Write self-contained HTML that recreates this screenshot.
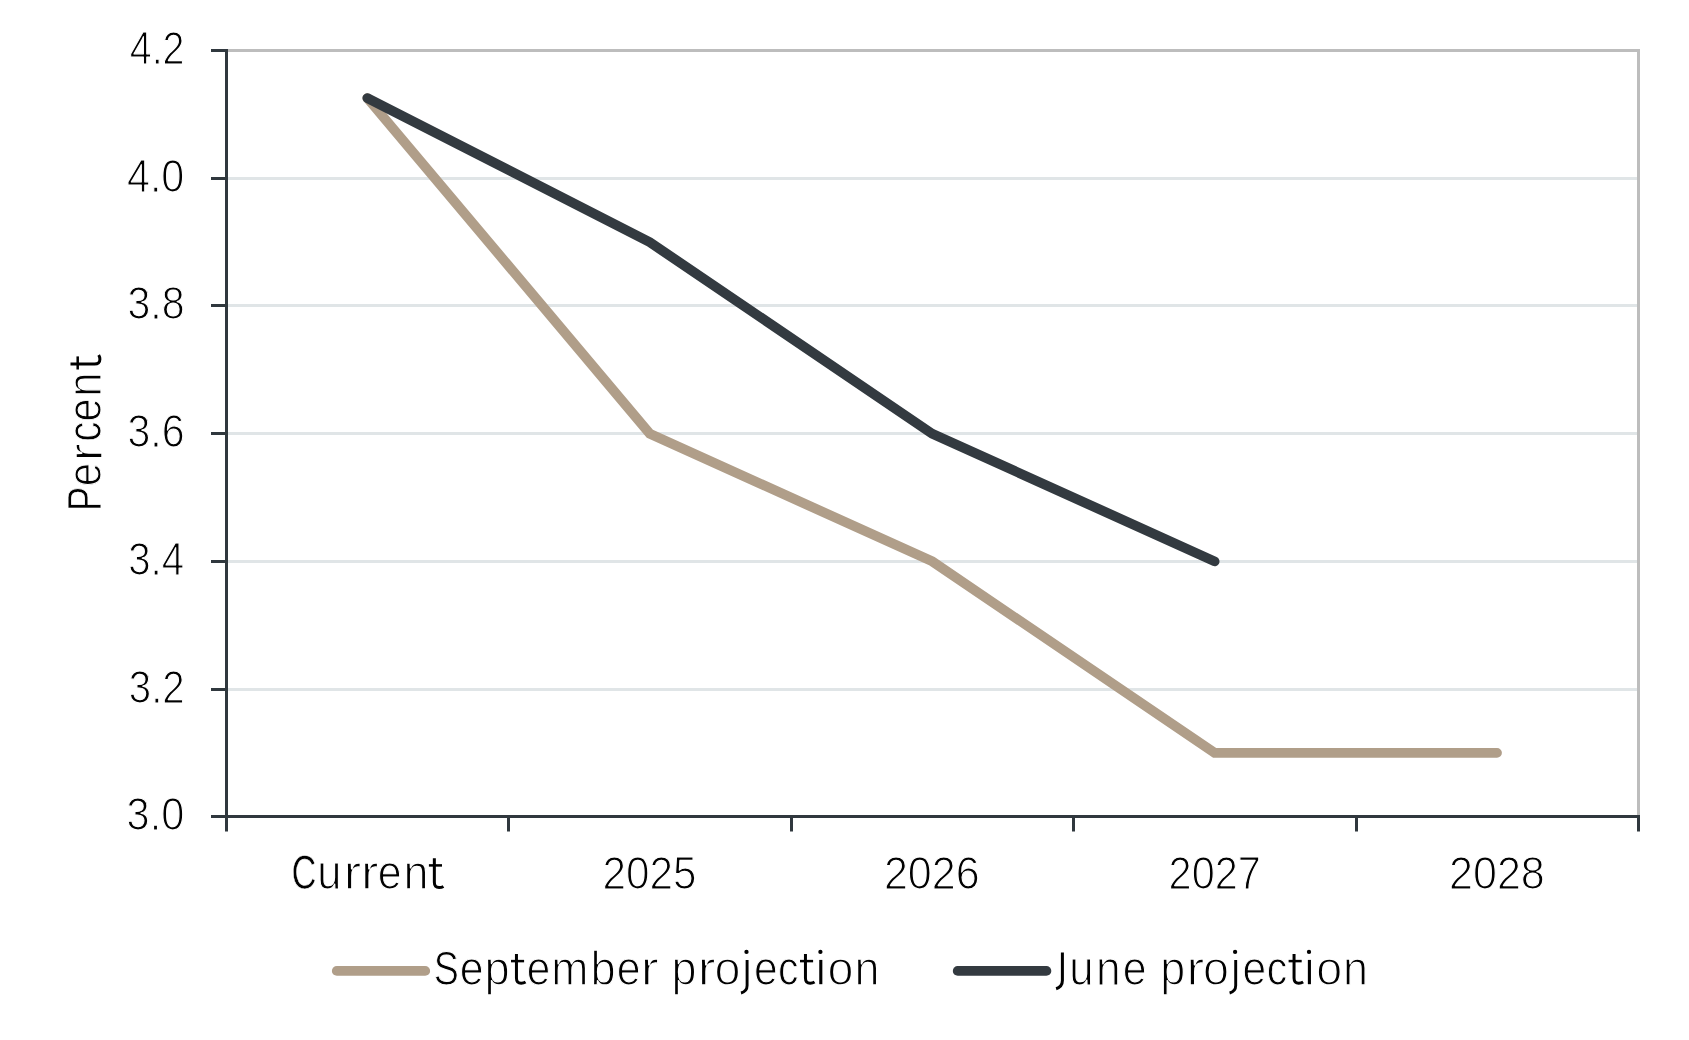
<!DOCTYPE html>
<html><head><meta charset="utf-8"><title>Chart</title>
<style>
html,body{margin:0;padding:0;background:#fff;}
body{width:1689px;height:1040px;overflow:hidden;}
svg{display:block;}
text{font-family:"Liberation Sans",sans-serif;fill:#000;font-kerning:none;stroke:#fff;stroke-width:1.2px;stroke-linejoin:round;}
</style></head><body>
<svg width="1689" height="1040" viewBox="0 0 1689 1040">
<rect width="1689" height="1040" fill="#fff"/>
<defs>
<g id="gt" fill="none" stroke="#000"><path d="M0 -30.3V-6.2Q0 -0.9 4.7 -0.9Q7.2 -0.9 9.1 -2.1" stroke-width="3"/><path d="M-5.45 -23.1H7.65" stroke-width="2.5"/></g>
<g id="gJ" fill="none" stroke="#000"><path d="M0 -31.8V-3.6Q0 2.6 -6.3 4.6" stroke-width="3"/></g>
<g id="gi" fill="none" stroke="#000"><path d="M0 -24.3V0" stroke-width="3.1"/><circle cx="-0.4" cy="-32.3" r="2.15" fill="#000" stroke="none"/></g>
<g id="gj" fill="none" stroke="#000"><path d="M0 -24.3V1.4Q0 7.2 -6.1 8.8" stroke-width="2.9"/><circle cx="-0.6" cy="-32.3" r="2.15" fill="#000" stroke="none"/></g>
</defs>
<line x1="226.5" x2="1638.5" y1="178.5" y2="178.5" stroke="#e0e5e7" stroke-width="3"/>
<line x1="226.5" x2="1638.5" y1="305.5" y2="305.5" stroke="#e0e5e7" stroke-width="3"/>
<line x1="226.5" x2="1638.5" y1="433.5" y2="433.5" stroke="#e0e5e7" stroke-width="3"/>
<line x1="226.5" x2="1638.5" y1="561.5" y2="561.5" stroke="#e0e5e7" stroke-width="3"/>
<line x1="226.5" x2="1638.5" y1="689.5" y2="689.5" stroke="#e0e5e7" stroke-width="3"/>
<polyline points="226.5,50.5 1638.5,50.5 1638.5,816.5" fill="none" stroke="#bdbdbd" stroke-width="3" stroke-linejoin="miter"/>
<polyline points="367.40,98.08 649.80,433.70 932.20,561.37 1214.60,752.87 1497.00,752.87" fill="none" stroke="#b09e89" stroke-width="9.8" stroke-linecap="round" stroke-linejoin="miter"/>
<polyline points="367.40,98.08 649.80,242.20 932.20,433.70 1214.60,561.37" fill="none" stroke="#333a40" stroke-width="9.8" stroke-linecap="round" stroke-linejoin="miter"/>
<line x1="226.5" x2="226.5" y1="49.0" y2="831.5" stroke="#30383e" stroke-width="3"/>
<line x1="211.0" x2="1640.0" y1="816.5" y2="816.5" stroke="#30383e" stroke-width="3"/>
<line x1="211.0" x2="226.5" y1="50.5" y2="50.5" stroke="#30383e" stroke-width="3"/>
<line x1="211.0" x2="226.5" y1="178.5" y2="178.5" stroke="#30383e" stroke-width="3"/>
<line x1="211.0" x2="226.5" y1="305.5" y2="305.5" stroke="#30383e" stroke-width="3"/>
<line x1="211.0" x2="226.5" y1="433.5" y2="433.5" stroke="#30383e" stroke-width="3"/>
<line x1="211.0" x2="226.5" y1="561.5" y2="561.5" stroke="#30383e" stroke-width="3"/>
<line x1="211.0" x2="226.5" y1="689.5" y2="689.5" stroke="#30383e" stroke-width="3"/>
<line x1="508.5" x2="508.5" y1="816.5" y2="831.5" stroke="#30383e" stroke-width="3"/>
<line x1="791.5" x2="791.5" y1="816.5" y2="831.5" stroke="#30383e" stroke-width="3"/>
<line x1="1073.5" x2="1073.5" y1="816.5" y2="831.5" stroke="#30383e" stroke-width="3"/>
<line x1="1356.5" x2="1356.5" y1="816.5" y2="831.5" stroke="#30383e" stroke-width="3"/>
<line x1="1638.5" x2="1638.5" y1="816.5" y2="831.5" stroke="#30383e" stroke-width="3"/>
<g opacity="0.999">
<text transform="translate(129.68 64.40) scale(0.8493 1)" font-size="46.51162790697675">4.2</text>
<text transform="translate(126.92 192.40) scale(0.8882 1)" font-size="46.51162790697675">4.0</text>
<text transform="translate(127.41 319.40) scale(0.8833 1)" font-size="46.51162790697675">3.8</text>
<text transform="translate(127.40 447.40) scale(0.8836 1)" font-size="46.51162790697675">3.6</text>
<text transform="translate(128.15 575.40) scale(0.8637 1)" font-size="46.51162790697675">3.4</text>
<text transform="translate(128.75 703.40) scale(0.8661 1)" font-size="46.51162790697675">3.2</text>
<text transform="translate(126.58 830.40) scale(0.8919 1)" font-size="46.51162790697675">3.0</text>
<text transform="translate(602.53 889.10) scale(0.9084 1)" font-size="46.51162790697675">2025</text>
<text transform="translate(883.88 889.10) scale(0.9256 1)" font-size="46.51162790697675">2026</text>
<text transform="translate(1168.58 889.10) scale(0.8925 1)" font-size="46.51162790697675">2027</text>
<text transform="translate(1448.98 889.10) scale(0.9264 1)" font-size="46.51162790697675">2028</text>
<text transform="translate(291.61 888.82) scale(0.7301 1.0000)" font-size="47.299" style="stroke-width:0.64px">C</text>
<text transform="translate(317.34 889.09) scale(0.9042 1.0000)" font-size="48.090" style="stroke-width:1.19px">u</text>
<text transform="translate(343.54 889.23) scale(1.1061 1.0000)" font-size="48.474" style="stroke-width:1.45px">r</text>
<text transform="translate(360.64 889.23) scale(1.1061 1.0000)" font-size="48.474" style="stroke-width:1.45px">r</text>
<text transform="translate(377.77 889.07) scale(0.8928 1.0000)" font-size="48.025" style="stroke-width:1.14px">e</text>
<text transform="translate(403.41 889.15) scale(0.9321 1.0000)" font-size="48.241" style="stroke-width:1.29px">n</text>
<use href="#gt" transform="translate(434.35 888.50)"/>
<text transform="translate(101.23 510.93) rotate(-90) scale(0.7679 1.0000)" font-size="47.611" style="stroke-width:0.86px">P</text>
<text transform="translate(101.34 486.16) rotate(-90) scale(0.8780 1.0000)" font-size="47.938" style="stroke-width:1.08px">e</text>
<text transform="translate(101.52 461.44) rotate(-90) scale(1.1248 1.0000)" font-size="48.474" style="stroke-width:1.45px">r</text>
<text transform="translate(101.25 441.56) rotate(-90) scale(0.8343 1.0000)" font-size="47.666" style="stroke-width:0.89px">c</text>
<text transform="translate(101.31 421.59) rotate(-90) scale(0.8632 1.0000)" font-size="47.849" style="stroke-width:1.02px">e</text>
<text transform="translate(101.40 396.66) rotate(-90) scale(0.9098 1.0000)" font-size="48.121" style="stroke-width:1.21px">n</text>
<use href="#gt" transform="translate(100.80 364.05) rotate(-90)"/>
<line x1="336.8" x2="425.2" y1="970.9" y2="970.9" stroke="#b09e89" stroke-width="9.8" stroke-linecap="round"/>
<line x1="957.7" x2="1046.4" y1="970.9" y2="970.9" stroke="#333a40" stroke-width="9.8" stroke-linecap="round"/>
<text transform="translate(433.71 984.68) scale(0.7876 1.0000)" font-size="47.762" style="stroke-width:0.96px">S</text>
<text transform="translate(459.67 984.77) scale(0.8928 1.0000)" font-size="48.025" style="stroke-width:1.14px">e</text>
<text transform="translate(484.38 984.85) scale(0.9363 1.0000)" font-size="48.263" style="stroke-width:1.31px">p</text>
<use href="#gt" transform="translate(516.45 984.20)"/>
<text transform="translate(526.81 984.75) scale(0.8829 1.0000)" font-size="47.968" style="stroke-width:1.10px">e</text>
<text transform="translate(551.25 984.83) scale(0.9258 1.0000)" font-size="48.208" style="stroke-width:1.27px">m</text>
<text transform="translate(590.38 984.85) scale(0.9363 1.0000)" font-size="48.263" style="stroke-width:1.31px">b</text>
<text transform="translate(616.77 984.77) scale(0.8928 1.0000)" font-size="48.025" style="stroke-width:1.14px">e</text>
<text transform="translate(640.43 984.93) scale(1.1342 1.0000)" font-size="48.474" style="stroke-width:1.45px">r</text>
<text transform="translate(671.61 984.84) scale(0.9311 1.0000)" font-size="48.236" style="stroke-width:1.29px">p</text>
<text transform="translate(697.56 984.93) scale(1.1248 1.0000)" font-size="48.474" style="stroke-width:1.45px">r</text>
<text transform="translate(714.46 984.90) scale(0.9650 1.0000)" font-size="48.409" style="stroke-width:1.41px">o</text>
<use href="#gj" transform="translate(747.10 984.20)"/>
<text transform="translate(753.89 984.76) scale(0.8878 1.0000)" font-size="47.996" style="stroke-width:1.12px">e</text>
<text transform="translate(778.04 984.70) scale(0.8562 1.0000)" font-size="47.806" style="stroke-width:0.99px">c</text>
<use href="#gt" transform="translate(805.45 984.20)"/>
<use href="#gi" transform="translate(820.80 984.20)"/>
<text transform="translate(827.56 984.90) scale(0.9650 1.0000)" font-size="48.409" style="stroke-width:1.41px">o</text>
<text transform="translate(854.51 984.85) scale(0.9321 1.0000)" font-size="48.241" style="stroke-width:1.29px">n</text>
<use href="#gJ" transform="translate(1062.40 984.20)"/>
<text transform="translate(1069.21 984.80) scale(0.9098 1.0000)" font-size="48.121" style="stroke-width:1.21px">u</text>
<text transform="translate(1095.98 984.82) scale(0.9210 1.0000)" font-size="48.182" style="stroke-width:1.25px">n</text>
<text transform="translate(1122.67 984.77) scale(0.8928 1.0000)" font-size="48.025" style="stroke-width:1.14px">e</text>
<text transform="translate(1160.21 984.84) scale(0.9311 1.0000)" font-size="48.236" style="stroke-width:1.29px">p</text>
<text transform="translate(1186.16 984.93) scale(1.1248 1.0000)" font-size="48.474" style="stroke-width:1.45px">r</text>
<text transform="translate(1203.06 984.90) scale(0.9650 1.0000)" font-size="48.409" style="stroke-width:1.41px">o</text>
<use href="#gj" transform="translate(1235.70 984.20)"/>
<text transform="translate(1242.49 984.76) scale(0.8878 1.0000)" font-size="47.996" style="stroke-width:1.12px">e</text>
<text transform="translate(1266.64 984.70) scale(0.8562 1.0000)" font-size="47.806" style="stroke-width:0.99px">c</text>
<use href="#gt" transform="translate(1294.05 984.20)"/>
<use href="#gi" transform="translate(1309.40 984.20)"/>
<text transform="translate(1316.16 984.90) scale(0.9650 1.0000)" font-size="48.409" style="stroke-width:1.41px">o</text>
<text transform="translate(1343.11 984.85) scale(0.9321 1.0000)" font-size="48.241" style="stroke-width:1.29px">n</text>
</g>
</svg></body></html>
